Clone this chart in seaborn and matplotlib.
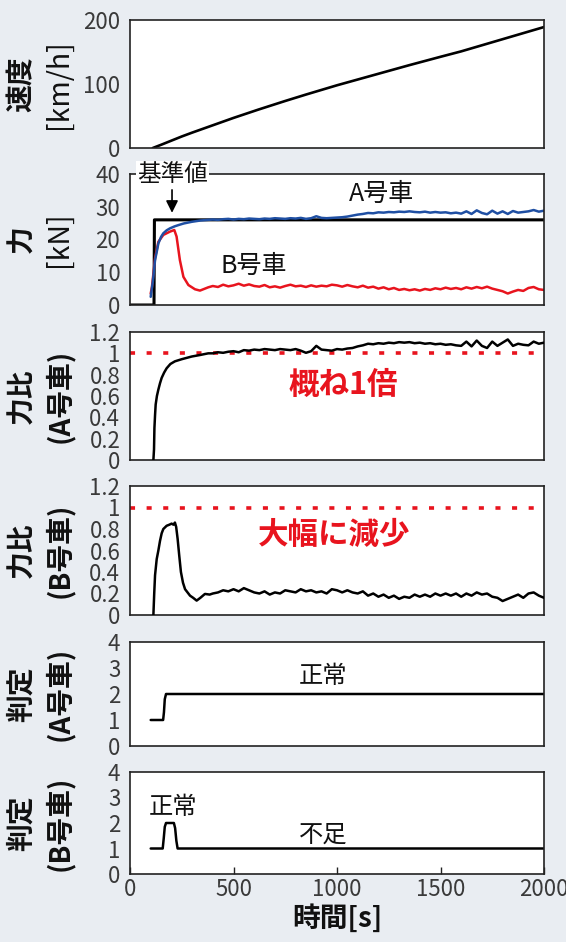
import numpy as np
import pandas as pd
import matplotlib
matplotlib.use("Agg")
import matplotlib.pyplot as plt
import seaborn as sns

# -------------------------------
# Data
# -------------------------------
speed_t = [110, 150, 200, 250, 300, 400, 500, 620, 750, 850, 1000, 1100, 1250, 1350,
           1500, 1600, 1700, 1800, 1900, 2000]
speed_v = [0, 5, 11.5, 18, 24, 35.5, 47, 60, 73.5, 83.5, 98, 107, 120.5, 129.5,
           142.5, 151, 160.5, 170, 179.5, 189]

ref_t = [0, 116, 118, 2000]
ref_v = [0, 0, 26, 26]

tail_t = list(range(400, 2001, 25))

forceA_t = [100, 110, 121, 130, 137, 150, 161, 177, 193, 215, 234, 260, 298, 340, 378] + tail_t
forceA_v = [2.5, 7, 13.7, 16.5, 18.8, 20.8, 21.9, 22.8, 23.4, 24.0, 24.4, 24.9, 25.4, 25.8, 26.0,
            26.1, 26.0, 26.2, 26.3, 26.1, 26.3, 26.2, 26.4, 26.3, 26.2, 26.4, 26.3, 26.5, 26.4, 26.3,
            26.5, 26.4, 26.6, 26.3, 26.5, 27.1, 26.6, 26.5, 26.6, 26.7, 26.8, 27.0, 27.3, 27.6, 27.8,
            28.1, 28.0, 28.3, 28.2, 28.4, 28.3, 28.5, 28.4, 28.6, 28.4, 28.3, 28.5, 28.2, 28.4, 28.2,
            28.3, 28.0, 28.2, 27.9, 28.6, 27.8, 28.9, 28.1, 27.7, 28.8, 27.9, 28.6, 27.8, 28.7, 28.2,
            28.4, 28.6, 29.0, 28.5, 28.8]

forceB_t = [100, 106, 121, 137, 161, 193, 214, 225, 241, 258, 282, 314, 338, 378] + tail_t
forceB_v = [3.5, 5.5, 14.3, 19.3, 21.4, 22.4, 22.9, 20.9, 13.7, 8.6, 6.1, 4.8, 4.4, 5.4,
            5.8, 5.5, 6.2, 5.7, 6.0, 6.5, 5.9, 6.3, 5.8, 5.6, 6.1, 5.4, 5.7, 5.3, 5.8,
            6.2, 5.7, 5.9, 5.5, 6.0, 5.6, 5.9, 5.7, 6.2, 6.0, 5.6, 6.1, 5.7, 5.4, 5.9,
            5.3, 5.6, 5.0, 5.4, 4.8, 5.2, 4.6, 4.9, 4.5, 4.8, 4.4, 4.9, 4.6, 5.1, 4.8,
            5.3, 4.9, 5.2, 4.8, 5.4, 5.0, 5.5, 5.1, 5.6, 5.0, 4.6, 4.2, 3.5, 4.1, 4.6,
            4.3, 5.2, 5.5, 4.8, 4.6]

ratioA_t = [113, 116, 118, 121, 124, 130, 137, 145, 153, 165, 177, 195, 217, 250, 298, 340, 378] + tail_t
ratioA_v = [0, 0.1, 0.3, 0.42, 0.52, 0.6, 0.66, 0.72, 0.77, 0.82, 0.86, 0.9, 0.925, 0.945, 0.97, 0.985, 1.0,
            1.0, 1.01, 1.005, 1.015, 1.02, 1.01, 1.03, 1.025, 1.035, 1.03, 1.04, 1.035, 1.03, 1.04, 1.035,
            1.03, 1.04, 1.025, 1.005, 1.02, 1.07, 1.035, 1.03, 1.025, 1.04, 1.035, 1.045, 1.05, 1.065, 1.075,
            1.09, 1.085, 1.095, 1.09, 1.1, 1.095, 1.105, 1.1, 1.105, 1.095, 1.1, 1.09, 1.095, 1.085, 1.09,
            1.08, 1.085, 1.075, 1.07, 1.11, 1.065, 1.12, 1.07, 1.05, 1.11, 1.07, 1.1, 1.13, 1.07, 1.09,
            1.08, 1.075, 1.11, 1.09, 1.1]

ratioB_t = [113, 117, 121, 129, 137, 145, 153, 161, 177, 190, 201, 210, 217, 223, 230, 238, 246,
            256, 266, 278, 290, 305, 322, 340, 362, 385] + tail_t
ratioB_v = [0, 0.2, 0.37, 0.52, 0.6, 0.69, 0.76, 0.80, 0.83, 0.84, 0.85, 0.84, 0.86, 0.82, 0.71, 0.55, 0.40,
            0.30, 0.24, 0.21, 0.18, 0.16, 0.134, 0.16, 0.196, 0.19,
            0.2, 0.21, 0.23, 0.22, 0.24, 0.22, 0.25, 0.23, 0.21, 0.2, 0.22, 0.19, 0.21, 0.2, 0.23,
            0.22, 0.21, 0.24, 0.22, 0.23, 0.21, 0.22, 0.2, 0.24, 0.23, 0.21, 0.23, 0.21, 0.2, 0.22,
            0.18, 0.2, 0.17, 0.19, 0.16, 0.18, 0.15, 0.17, 0.16, 0.19, 0.17, 0.19, 0.17, 0.2, 0.18,
            0.2, 0.18, 0.2, 0.17, 0.2, 0.18, 0.21, 0.19, 0.2, 0.17, 0.16, 0.13, 0.15, 0.17, 0.19,
            0.16, 0.2, 0.21, 0.18, 0.16]

judgeA_t = [100, 160, 164, 168, 174, 2000]
judgeA_v = [1, 1, 1.3, 1.8, 2, 2]

judgeB_t = [100, 158, 163, 168, 174, 212, 218, 224, 230, 2000]
judgeB_v = [1, 1, 1.4, 1.85, 2, 2, 1.8, 1.3, 1, 1]

# -------------------------------
# Style
# -------------------------------
BG = "#e9edf2"
RED = "#e8141e"
BLUE = "#1f4fa3"
INK = "#111111"
W, H = 566, 942

sns.set_style("white")
plt.rcParams["font.family"] = ["Noto Sans CJK JP", "DejaVu Sans"]

fig = plt.figure(figsize=(W / 100, H / 100), dpi=100, facecolor=BG)

# panel boxes in pixels (top, bottom)
boxes = [(20, 148), (174, 305), (332, 460), (486, 615), (642, 746), (772, 874)]
L, R = 130, 544
axes = []
for top, bot in boxes:
    ax = fig.add_axes([L / W, 1 - bot / H, (R - L) / W, (bot - top) / H])
    ax.set_facecolor("white")
    for s in ax.spines.values():
        s.set_color("#222222")
        s.set_linewidth(1.2)
    ax.set_xlim(0, 2000)
    ax.tick_params(axis="y", direction="inout", length=10, width=1, color="#222222",
                   labelsize=16, labelcolor="#3a3a3a", pad=2)
    ax.tick_params(axis="x", bottom=False, labelbottom=False)
    axes.append(ax)

ax1, ax2, ax3, ax4, ax5, ax6 = axes

# Panel 1: speed
sns.lineplot(x=speed_t, y=speed_v, ax=ax1, color="black", lw=1.9, estimator=None)
ax1.set_ylim(0, 200)
ax1.set_yticks([0, 100, 200])

# Panel 2: force
sns.lineplot(x=ref_t, y=ref_v, ax=ax2, color="black", lw=2.2, estimator=None, sort=False)
sns.lineplot(x=forceB_t, y=forceB_v, ax=ax2, color=RED, lw=1.8, estimator=None)
sns.lineplot(x=forceA_t, y=forceA_v, ax=ax2, color=BLUE, lw=1.8, estimator=None)
ax2.set_ylim(0, 40)
ax2.set_yticks([0, 10, 20, 30, 40])
ax2.text(206, 40, "基準値", fontsize=17, ha="center", va="center", color=INK,
         bbox=dict(facecolor="white", edgecolor="none", pad=1), zorder=5, clip_on=False)
ax2.annotate("", xy=(203, 27.3), xytext=(203, 36),
             arrowprops=dict(arrowstyle="-|>", color="black", lw=1.2, mutation_scale=18))
ax2.text(1213, 33.9, "A号車", fontsize=18, ha="center", va="center", color=INK)
ax2.text(599, 11.9, "B号車", fontsize=18, ha="center", va="center", color=INK)

# Panel 3 / 4: force ratio
ratio_ticks = [0, 0.2, 0.4, 0.6, 0.8, 1, 1.2]
ratio_labels = ["0", "0.2", "0.4", "0.6", "0.8", "1", "1.2"]
for ax, rt, rv in [(ax3, ratioA_t, ratioA_v), (ax4, ratioB_t, ratioB_v)]:
    ax.axhline(1.0, color=RED, lw=2.6, dashes=(1.4, 3.2), zorder=1)
    sns.lineplot(x=rt, y=rv, ax=ax, color="black", lw=1.8, estimator=None, zorder=3)
    ax.set_ylim(0, 1.2)
    ax.set_yticks(ratio_ticks)
    ax.set_yticklabels(ratio_labels)
ax3.text(1029, 0.70, "概ね1倍", fontsize=22, fontweight="bold", color=RED, ha="center", va="center")
ax4.text(985, 0.743, "大幅に減少", fontsize=22, fontweight="bold", color=RED, ha="center", va="center")

# Panel 5 / 6: judgement
for ax, jt, jv in [(ax5, judgeA_t, judgeA_v), (ax6, judgeB_t, judgeB_v)]:
    sns.lineplot(x=jt, y=jv, ax=ax, color="black", lw=1.8, estimator=None)
    ax.set_ylim(0, 4)
    ax.set_yticks([0, 1, 2, 3, 4])
ax5.text(932, 2.69, "正常", fontsize=17.5, ha="center", va="center", color=INK)
ax6.text(208, 2.62, "正常", fontsize=17.5, ha="center", va="center", color=INK)
ax6.text(932, 1.56, "不足", fontsize=17.5, ha="center", va="center", color=INK)

ax6.tick_params(axis="x", bottom=True, labelbottom=True, direction="in", length=5, width=1,
                color="#222222", labelsize=16, labelcolor="#3a3a3a", pad=3)
ax6.set_xticks([0, 500, 1000, 1500, 2000])

for ax in axes:
    ax.set_xlabel("")
    ax.set_ylabel("")

# y labels (two lines each)
ylabels = [("速度", "[km/h]", "normal"), ("力", "[kN]", "normal"),
           ("力比", "(A号車)", "bold"), ("力比", "(B号車)", "bold"),
           ("判定", "(A号車)", "bold"), ("判定", "(B号車)", "bold")]
for (top, bot), (l1, l2, w2) in zip(boxes, ylabels):
    yc = 1 - (top + bot) / 2 / H
    fig.text(22 / W, yc, l1, rotation=90, ha="center", va="center",
             fontsize=20, fontweight="bold", color=INK)
    fig.text(59 / W, yc, l2, rotation=90, ha="center", va="center",
             fontsize=20.5 if w2 == "normal" else 20, fontweight=w2, color=INK)

fig.text((L + R) / 2 / W, 1 - 918 / H, "時間[s]", ha="center", va="center",
         fontsize=20, fontweight="bold", color=INK)

fig.savefig("out.png", dpi=100, facecolor=BG)
